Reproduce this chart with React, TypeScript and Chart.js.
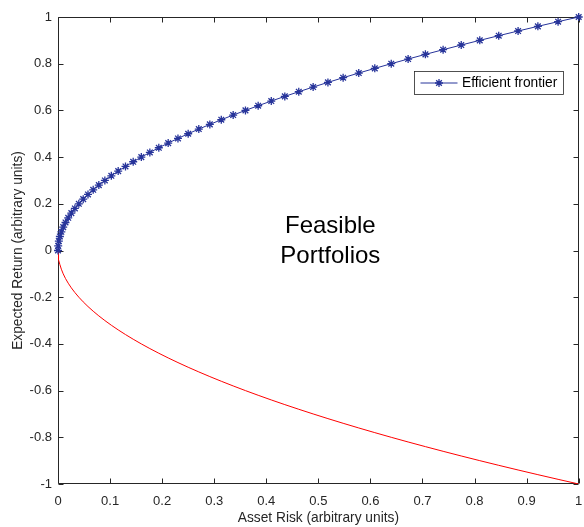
import React, { useEffect, useRef } from 'react';
import { Chart, registerables } from 'chart.js';

Chart.register(...registerables);

// Efficient frontier (upper branch): asset risk vs expected return
const frontierRisk = [
  0, 0.0004, 0.0016, 0.0036, 0.0064, 0.01, 0.0144, 0.0196, 0.0256, 0.0324,
  0.04, 0.0484, 0.0576, 0.0676, 0.0784, 0.09, 0.1024, 0.1156, 0.1296, 0.1444,
  0.16, 0.1764, 0.1936, 0.2116, 0.2304, 0.25, 0.2704, 0.2916, 0.3136, 0.3364,
  0.36, 0.3844, 0.4096, 0.4356, 0.4624, 0.49, 0.5184, 0.5476, 0.5776, 0.6084,
  0.64, 0.6724, 0.7056, 0.7396, 0.7744, 0.81, 0.8464, 0.8836, 0.9216, 0.9604, 1,
];
const frontierReturn = [
  0, 0.02, 0.04, 0.06, 0.08, 0.1, 0.12, 0.14, 0.16, 0.18,
  0.2, 0.22, 0.24, 0.26, 0.28, 0.3, 0.32, 0.34, 0.36, 0.38,
  0.4, 0.42, 0.44, 0.46, 0.48, 0.5, 0.52, 0.54, 0.56, 0.58,
  0.6, 0.62, 0.64, 0.66, 0.68, 0.7, 0.72, 0.74, 0.76, 0.78,
  0.8, 0.82, 0.84, 0.86, 0.88, 0.9, 0.92, 0.94, 0.96, 0.98, 1,
];

// Lower (inefficient) branch of the feasible set boundary
const lowerRisk = [
  0, 0.0004, 0.0016, 0.0036, 0.0064, 0.01, 0.0144, 0.0196, 0.0256, 0.0324,
  0.04, 0.0484, 0.0576, 0.0676, 0.0784, 0.09, 0.1024, 0.1156, 0.1296, 0.1444,
  0.16, 0.1764, 0.1936, 0.2116, 0.2304, 0.25, 0.2704, 0.2916, 0.3136, 0.3364,
  0.36, 0.3844, 0.4096, 0.4356, 0.4624, 0.49, 0.5184, 0.5476, 0.5776, 0.6084,
  0.64, 0.6724, 0.7056, 0.7396, 0.7744, 0.81, 0.8464, 0.8836, 0.9216, 0.9604, 1,
];
const lowerReturn = [
  0, -0.02, -0.04, -0.06, -0.08, -0.1, -0.12, -0.14, -0.16, -0.18,
  -0.2, -0.22, -0.24, -0.26, -0.28, -0.3, -0.32, -0.34, -0.36, -0.38,
  -0.4, -0.42, -0.44, -0.46, -0.48, -0.5, -0.52, -0.54, -0.56, -0.58,
  -0.6, -0.62, -0.64, -0.66, -0.68, -0.7, -0.72, -0.74, -0.76, -0.78,
  -0.8, -0.82, -0.84, -0.86, -0.88, -0.9, -0.92, -0.94, -0.96, -0.98, -1,
];

const xTickValues = [0, 0.1, 0.2, 0.3, 0.4, 0.5, 0.6, 0.7, 0.8, 0.9, 1];
const yTickValues = [-1, -0.8, -0.6, -0.4, -0.2, 0, 0.2, 0.4, 0.6, 0.8, 1];

const legendLabel = 'Efficient frontier';
const annotationLines = ['Feasible', 'Portfolios'];
const xTitle = 'Asset Risk (arbitrary units)';
const yTitle = 'Expected Return (arbitrary units)';

const FONT = "'Liberation Sans', Arial, Helvetica, sans-serif";
const AXIS_COLOR = '#262626';
const BLUE = '#27349a';
const RED = '#ff0000';

function drawStar(ctx: CanvasRenderingContext2D, cx: number, cy: number, r: number) {
  ctx.beginPath();
  ctx.moveTo(cx - r, cy);
  ctx.lineTo(cx + r, cy);
  ctx.moveTo(cx, cy - r);
  ctx.lineTo(cx, cy + r);
  const d = r * Math.SQRT1_2;
  ctx.moveTo(cx - d, cy - d);
  ctx.lineTo(cx + d, cy + d);
  ctx.moveTo(cx - d, cy + d);
  ctx.lineTo(cx + d, cy - d);
  ctx.stroke();
}

const framePlugin = {
  id: 'matlabFrame',
  beforeDatasetsDraw(chart: any) {
    const { ctx, chartArea: a, scales } = chart;
    const xs = scales.x;
    const ys = scales.y;
    ctx.save();
    ctx.strokeStyle = AXIS_COLOR;
    ctx.lineWidth = 1;
    const L = Math.round(a.left) + 0.5;
    const R = Math.round(a.right) - 0.5;
    const T = Math.round(a.top) + 0.5;
    const B = Math.round(a.bottom) - 0.5;
    ctx.beginPath();
    ctx.rect(L, T, R - L, B - T);
    ctx.stroke();
    const tl = 5;
    ctx.beginPath();
    xTickValues.forEach((v) => {
      const px = Math.round(xs.getPixelForValue(v)) + 0.5;
      ctx.moveTo(px, B);
      ctx.lineTo(px, B - tl);
      ctx.moveTo(px, T);
      ctx.lineTo(px, T + tl);
    });
    yTickValues.forEach((v) => {
      const py = Math.round(ys.getPixelForValue(v)) + 0.5;
      ctx.moveTo(L, py);
      ctx.lineTo(L + tl, py);
      ctx.moveTo(R, py);
      ctx.lineTo(R - tl, py);
    });
    ctx.stroke();
    ctx.restore();
  },
  afterDraw(chart: any) {
    const { ctx, chartArea: a, scales } = chart;
    const xs = scales.x;
    const ys = scales.y;
    ctx.save();
    // annotation text
    ctx.fillStyle = '#000000';
    ctx.font = `24px ${FONT}`;
    ctx.textAlign = 'center';
    ctx.textBaseline = 'alphabetic';
    const tx = xs.getPixelForValue(0.523);
    const ty = ys.getPixelForValue(0.075);
    annotationLines.forEach((line, i) => {
      ctx.fillText(line, tx, ty + i * 30);
    });
    // legend
    const w = 149;
    const h = 23;
    const bx = Math.round(a.right - 16 - w) + 0.5;
    const by = Math.round(a.top + 54) + 0.5;
    ctx.fillStyle = '#ffffff';
    ctx.fillRect(bx, by, w, h);
    ctx.strokeStyle = AXIS_COLOR;
    ctx.lineWidth = 0.8;
    ctx.strokeRect(bx, by, w, h);
    const my = by + h / 2;
    ctx.strokeStyle = BLUE;
    ctx.lineWidth = 1;
    ctx.beginPath();
    ctx.moveTo(bx + 6, my);
    ctx.lineTo(bx + 43, my);
    ctx.stroke();
    ctx.lineWidth = 1.3;
    drawStar(ctx, bx + 24.5, my, 4);
    ctx.fillStyle = '#000000';
    ctx.font = `13.75px ${FONT}`;
    ctx.textAlign = 'left';
    ctx.textBaseline = 'middle';
    ctx.fillText(legendLabel, bx + 47.5, my + 0.5);
    ctx.restore();
  },
};

const fmt = (v: number) => String(Number(v.toFixed(1)));

export default function App() {
  const canvasRef = useRef<HTMLCanvasElement | null>(null);

  useEffect(() => {
    if (!canvasRef.current) return;
    const chart = new Chart(canvasRef.current, {
      type: 'scatter',
      data: {
        datasets: [
          {
            label: legendLabel,
            data: frontierRisk.map((x, i) => ({ x, y: frontierReturn[i] })),
            showLine: true,
            borderColor: BLUE,
            borderWidth: 1,
            pointStyle: 'star',
            pointRadius: 4,
            pointBorderColor: BLUE,
            pointBackgroundColor: BLUE,
            pointBorderWidth: 1.3,
            clip: 6,
            order: 0,
          } as any,
          {
            label: 'Lower boundary',
            data: lowerRisk.map((x, i) => ({ x, y: lowerReturn[i] })),
            showLine: true,
            borderColor: RED,
            borderWidth: 1,
            pointRadius: 0,
            order: 1,
          },
        ],
      },
      options: {
        responsive: false,
        animation: false,
        devicePixelRatio: 1,
        layout: { padding: { top: 17, right: 2, left: 0, bottom: 0 } },
        plugins: {
          legend: { display: false },
          tooltip: { enabled: false },
        },
        scales: {
          x: {
            type: 'linear',
            min: 0,
            max: 1,
            grid: { display: false, drawTicks: false },
            border: { display: false },
            afterBuildTicks: (s: any) => {
              s.ticks = xTickValues.map((value) => ({ value }));
            },
            afterFit: (s: any) => {
              s.height = 43;
              s.paddingLeft = 0;
              s.paddingRight = 0;
            },
            ticks: {
              callback: (v: any) => fmt(Number(v)),
              font: { family: FONT, size: 13 },
              color: AXIS_COLOR,
              padding: 10,
              maxRotation: 0,
              autoSkip: false,
            },
            title: {
              display: true,
              text: xTitle,
              font: { family: FONT, size: 13.75 },
              color: AXIS_COLOR,
              padding: { top: 0, bottom: 1 },
            },
          },
          y: {
            type: 'linear',
            min: -1,
            max: 1,
            grid: { display: false, drawTicks: false },
            border: { display: false },
            afterBuildTicks: (s: any) => {
              s.ticks = yTickValues.map((value) => ({ value }));
            },
            afterFit: (s: any) => {
              s.width = 58;
              s.paddingTop = 0;
              s.paddingBottom = 0;
            },
            ticks: {
              callback: (v: any) => fmt(Number(v)),
              font: { family: FONT, size: 13 },
              color: AXIS_COLOR,
              padding: 6,
              autoSkip: false,
            },
            title: {
              display: true,
              text: yTitle,
              font: { family: FONT, size: 13.75 },
              color: AXIS_COLOR,
              padding: { top: 10, bottom: 0 },
            },
          },
        },
      } as any,
      plugins: [framePlugin],
    });
    return () => chart.destroy();
  }, []);

  return (
    <div style={{ position: 'absolute', left: 0, top: 0, width: 584, height: 527, background: '#ffffff' }}>
      <canvas ref={canvasRef} width={584} height={527} />
    </div>
  );
}
